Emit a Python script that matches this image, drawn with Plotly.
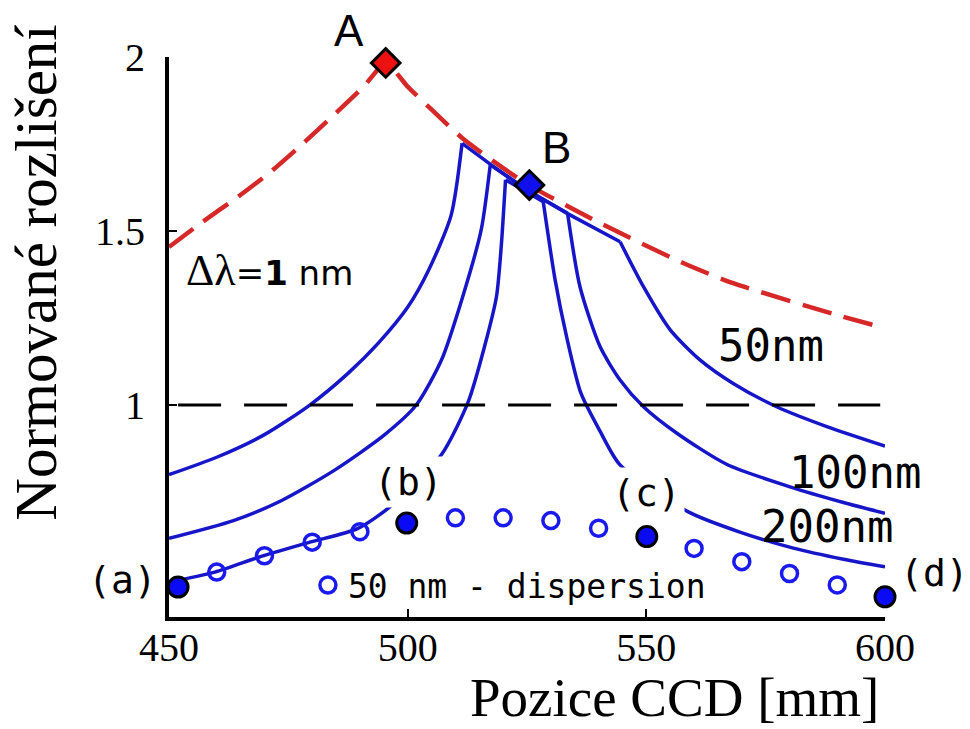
import plotly.graph_objects as go

# ---------------- data ----------------
# red dashed envelope (Δλ = 1 nm)
env_x = [450.0, 456.7, 464.4, 471.3, 478.2, 484.5, 490.8, 495.4, 500.0, 505.3, 511.6, 518.0, 525.0, 540.3, 557.7, 568.2, 589.1, 600.0]
env_y = [1.454, 1.523, 1.598, 1.670, 1.753, 1.833, 1.915, 1.983, 1.915, 1.845, 1.765, 1.700, 1.635, 1.523, 1.408, 1.350, 1.262, 1.221]

# 50 nm curve
c50_rise_x = [450.0, 460.0, 470.0, 479.5, 487.5, 493.8, 500.1, 504.3, 509.1, 511.4]
c50_rise_y = [0.800, 0.850, 0.915, 1.000, 1.091, 1.177, 1.283, 1.385, 1.545, 1.752]
c50_top_x = [511.4, 517.5, 525.0, 533.5, 544.5]
c50_top_y = [1.752, 1.690, 1.618, 1.550, 1.469]
c50_fall_x = [544.5, 549.4, 555.0, 561.3, 568.2, 577.3, 587.8, 600.0]
c50_fall_y = [1.469, 1.340, 1.216, 1.129, 1.062, 0.995, 0.938, 0.882]

# 100 nm curve
c100_rise_x = [450.0, 463.5, 473.5, 484.7, 495.2, 501.8, 507.1, 511.5, 515.4, 517.3]
c100_rise_y = [0.617, 0.668, 0.725, 0.813, 0.915, 1.000, 1.130, 1.310, 1.503, 1.690]
c100_top_x = [517.3, 525.0, 533.5]
c100_top_y = [1.690, 1.618, 1.551]
c100_fall_x = [533.5, 536.1, 540.3, 544.5, 549.4, 556.4, 566.8, 580.1, 591.3, 600.0]
c100_fall_y = [1.551, 1.340, 1.168, 1.072, 0.995, 0.919, 0.830, 0.765, 0.720, 0.689]

# 200 nm curve
c200_rise_x = [450.0, 459.6, 469.5, 479.5, 489.5, 496.8, 507.1, 512.7, 516.1, 518.6, 519.6, 520.5]
c200_rise_y = [0.491, 0.520, 0.566, 0.606, 0.645, 0.713, 0.858, 1.010, 1.168, 1.311, 1.455, 1.647]
c200_top_x = [520.5, 525.0, 528.4]
c200_top_y = [1.647, 1.612, 1.584]
c200_fall_x = [528.4, 530.9, 533.3, 536.3, 540.3, 544.5, 558.8, 569.6, 580.8, 591.3, 600.0]
c200_fall_y = [1.584, 1.359, 1.196, 1.034, 0.925, 0.828, 0.693, 0.635, 0.589, 0.557, 0.535]

# 50 nm - dispersion (open circles)
disp_x = [460, 470, 480, 490, 510, 520, 530, 540, 560, 570, 580, 590]
disp_y = [0.520, 0.567, 0.606, 0.636, 0.676, 0.676, 0.668, 0.646, 0.588, 0.550, 0.516, 0.483]

# highlighted positions (a)-(d)
pts_x = [451.9, 499.8, 550.1, 600.0]
pts_y = [0.477, 0.661, 0.622, 0.449]
pts_labels = ["(a)", "(b)", "(c)", "(d)"]

# points A and B
A_x, A_y = [495.4], [1.983]
B_x, B_y = [525.5], [1.632]

# unit reference line
ref_x = [451.9, 599.0]
ref_y = [1.0, 1.0]

x_ticks = [450, 500, 550, 600]
y_ticks = [1, 1.5, 2]
x_range = [450, 600]
y_range = [0.391, 2.0]

# ---------------- styling ----------------
BLUE = "#1616c8"
RED = "#d62828"
SERIF = "Liberation Serif"
MONO = "DejaVu Sans Mono"


def px(v):  # data x -> paper x
    return (v - x_range[0]) / (x_range[1] - x_range[0])


def py(v):  # data y -> paper y
    return (v - y_range[0]) / (y_range[1] - y_range[0])


fig = go.Figure()

fig.add_trace(go.Scatter(x=env_x, y=env_y, mode="lines", showlegend=False,
                         line=dict(color=RED, width=4.5, dash="30px,13px", shape="spline", smoothing=0.6)))

for xs, ys, shp in [
    (c50_rise_x, c50_rise_y, "spline"), (c50_top_x, c50_top_y, "linear"), (c50_fall_x, c50_fall_y, "spline"),
    (c100_rise_x, c100_rise_y, "spline"), (c100_top_x, c100_top_y, "linear"), (c100_fall_x, c100_fall_y, "spline"),
    (c200_rise_x, c200_rise_y, "spline"), (c200_top_x, c200_top_y, "linear"), (c200_fall_x, c200_fall_y, "spline"),
]:
    fig.add_trace(go.Scatter(x=xs, y=ys, mode="lines", showlegend=False,
                             line=dict(color=BLUE, width=3.5, shape=shp, smoothing=0.7)))

fig.add_trace(go.Scatter(x=ref_x, y=ref_y, mode="lines", showlegend=False,
                         line=dict(color="black", width=3, dash="43px,23px")))

fig.add_trace(go.Scatter(x=disp_x, y=disp_y, mode="markers", name="50 nm - dispersion",
                         showlegend=True, cliponaxis=False,
                         marker=dict(symbol="circle-open", size=16, color="#1a1aee",
                                     line=dict(width=3.5, color="#1a1aee"))))

fig.add_trace(go.Scatter(x=pts_x, y=pts_y, mode="markers", showlegend=False, cliponaxis=False,
                         marker=dict(symbol="circle", size=20, color="#0a0af5",
                                     line=dict(width=3, color="black"))))

fig.add_trace(go.Scatter(x=A_x, y=A_y, mode="markers", showlegend=False, cliponaxis=False,
                         marker=dict(symbol="diamond", size=22, color="#ee1111",
                                     line=dict(width=3, color="black"))))
fig.add_trace(go.Scatter(x=B_x, y=B_y, mode="markers", showlegend=False, cliponaxis=False,
                         marker=dict(symbol="diamond", size=22, color="#1010ee",
                                     line=dict(width=3, color="black"))))

annotations = [
    dict(x=px(487.7), y=py(2.075), text="A", font=dict(family="Liberation Sans", size=44, color="black")),
    dict(x=px(531.1), y=py(1.741), text="B", font=dict(family="Liberation Sans", size=44, color="black")),
    dict(x=px(471.0), y=py(1.388),
         text="<span style='font-family:Liberation Serif;font-size:44px'>Δλ</span>=<b>1</b> nm",
         font=dict(family="DejaVu Sans", size=34, color="black")),
    dict(x=px(576.1), y=py(1.172), text="50nm", font=dict(family=MONO, size=44, color="black")),
    dict(x=px(593.7), y=py(0.805), text="100nm", font=dict(family=MONO, size=44, color="black")),
    dict(x=px(587.9), y=py(0.650), text="200nm", font=dict(family=MONO, size=44, color="black")),
    dict(x=px(440.2), y=py(0.497), text=pts_labels[0], font=dict(family=MONO, size=38, color="black")),
    dict(x=px(500.1), y=py(0.779), text=pts_labels[1], font=dict(family=MONO, size=38, color="black"),
         bgcolor="white", borderpad=3),
    dict(x=px(550.1), y=py(0.747), text=pts_labels[2], font=dict(family=MONO, size=38, color="black"),
         bgcolor="white", borderpad=3),
    dict(x=px(610.3), y=py(0.517), text=pts_labels[3], font=dict(family=MONO, size=38, color="black")),
    # axis titles
    dict(x=-0.185, y=0.614, text="Normované rozlišení", textangle=-90,
         font=dict(family=SERIF, size=59, color="black")),
    dict(x=0.706, y=-0.1437, text="Pozice CCD [mm]",
         font=dict(family=SERIF, size=55, color="black")),
]
for a in annotations:
    a.update(xref="paper", yref="paper", showarrow=False, xanchor="center", yanchor="middle")

fig.update_layout(
    width=970, height=729,
    margin=dict(l=169, r=85, t=57, b=112),
    paper_bgcolor="white", plot_bgcolor="white",
    annotations=annotations,
    showlegend=True,
    legend=dict(x=0.194, y=0.057, xanchor="left", yanchor="middle",
                bgcolor="rgba(0,0,0,0)", font=dict(family=MONO, size=33, color="black"),
                itemsizing="trace"),
    xaxis=dict(range=x_range, tickvals=x_ticks, ticktext=[str(v) for v in x_ticks],
               showgrid=False, zeroline=False, showline=True, linecolor="black", linewidth=4,
               ticks="inside", ticklen=8, tickwidth=2, tickcolor="black",
               ticklabelstandoff=-8,
               tickfont=dict(family=SERIF, size=40, color="black")),
    yaxis=dict(range=y_range, tickvals=y_ticks, ticktext=["1", "1.5", "2"],
               showgrid=False, zeroline=False, showline=True, linecolor="black", linewidth=4,
               ticks="inside", ticklen=8, tickwidth=2, tickcolor="black",
               ticklabelstandoff=12,
               tickfont=dict(family=SERIF, size=40, color="black")),
)

# let the figure fill the window exactly (no default page margin), no mode bar
fig.write_html("out.html", config={"displayModeBar": False},
               post_script="document.body.style.margin='0px';")
